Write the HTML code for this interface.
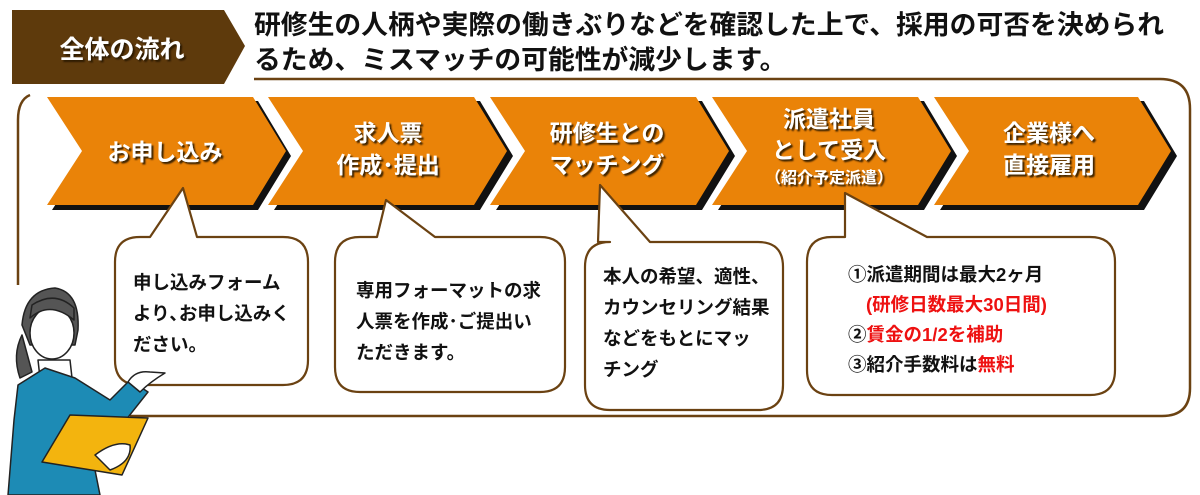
<!DOCTYPE html>
<html><head><meta charset="utf-8"><style>
html,body{margin:0;padding:0;background:#fff;width:1200px;height:495px;overflow:hidden}
svg{display:block}
.t{font-family:"Liberation Sans","Noto Sans CJK JP",sans-serif;font-weight:bold}
</style></head><body>
<svg width="1200" height="495" viewBox="0 0 1200 495">
<defs>
<filter id="sh" x="-10%" y="-10%" width="130%" height="130%"><feDropShadow dx="2" dy="2" stdDeviation="0.8" flood-color="#2a1500" flood-opacity="0.9"/></filter>
</defs>
<!-- header -->
<polygon points="12,10 224,10 245,46 224,84 12,84" fill="#5e3a0c"/>
<text x="122" y="58" class="t" font-size="25" fill="#fff" text-anchor="middle" filter="url(#sh)">全体の流れ</text>
<text x="254" y="34" class="t" font-size="26.8" fill="#111">研修生の人柄や実際の働きぶりなどを確認した上で、採用の可否を決められ</text>
<text x="254" y="69" class="t" font-size="26.8" fill="#111">るため、ミスマッチの可能性が減少します。</text>
<!-- frame -->
<path d="M254,79 L1160,79 Q1190,79 1190,109 L1190,388 Q1190,416 1162,416 L130,416" fill="none" stroke="#6b4212" stroke-width="2.5"/>
<path d="M30,95 Q18,100 18,120 L18,285" fill="none" stroke="#6b4212" stroke-width="2.5"/>
<!-- chevrons -->
<g>
<polygon points="52,101 258,101 291,156 258,210 52,210 87,156" fill="#111"/>
<polygon points="47,97 253,97 286,151 253,205 47,205 82,151" fill="#ea8308"/>
<polygon points="274,101 480,101 513,156 480,210 274,210 309,156" fill="#111"/>
<polygon points="268,97 474,97 507,151 474,205 268,205 303,151" fill="#ea8308"/>
<polygon points="496,101 702,101 735,156 702,210 496,210 531,156" fill="#111"/>
<polygon points="490,97 696,97 729,151 696,205 490,205 525,151" fill="#ea8308"/>
<polygon points="718,101 924,101 957,156 924,210 718,210 753,156" fill="#111"/>
<polygon points="712,97 918,97 951,151 918,205 712,205 747,151" fill="#ea8308"/>
<polygon points="940,101 1144,101 1177,156 1144,210 940,210 975,156" fill="#111"/>
<polygon points="934,97 1138,97 1171,151 1138,205 934,205 969,151" fill="#ea8308"/>
</g>
<g class="t" fill="#fff" text-anchor="middle" font-size="23" filter="url(#sh)">
<text x="165" y="160">お申し込み</text>
<text x="388" y="141">求人票</text>
<text x="388" y="173">作成･提出</text>
<text x="607" y="141">研修生との</text>
<text x="607" y="173">マッチング</text>
<text x="829" y="127">派遣社員</text>
<text x="829" y="158">として受入</text>
<text x="829" y="183" font-size="16">（紹介予定派遣）</text>
<text x="1049" y="141">企業様へ</text>
<text x="1049" y="173">直接雇用</text>
</g>
<!-- bubbles -->
<g fill="#fff" stroke="#6b4212" stroke-width="2.2" stroke-linejoin="round">
<path d="M140,237 L150,237 L183,188 L197,237 L283,237 Q308,237 308,262 L308,360 Q308,385 283,385 L140,385 Q115,385 115,360 L115,262 Q115,237 140,237 Z"/>
<path d="M360,237 L377,237 L386,200 L435,237 L540,237 Q565,237 565,262 L565,367 Q565,392 540,392 L360,392 Q335,392 335,367 L335,262 Q335,237 360,237 Z"/>
<path d="M610,242 L598,242 L600,185 L650,242 L758,242 Q783,242 783,267 L783,385 Q783,410 758,410 L610,410 Q585,410 585,385 L585,267 Q585,242 610,242 Z"/>
<path d="M832,237 L845,237 L845,193 L927,237 L1090,237 Q1115,237 1115,262 L1115,370 Q1115,395 1090,395 L832,395 Q807,395 807,370 L807,262 Q807,237 832,237 Z"/>
</g>
<g class="t" font-size="18.5" fill="#111">
<text x="133" y="289">申し込みフォーム</text>
<text x="133" y="320">より､お申し込みく</text>
<text x="133" y="351">ださい。</text>
<text x="356" y="297">専用フォーマットの求</text>
<text x="356" y="328">人票を作成･ご提出い</text>
<text x="356" y="359">ただきます。</text>
<text x="603" y="283">本人の希望、適性、</text>
<text x="603" y="314">カウンセリング結果</text>
<text x="603" y="345">などをもとにマッ</text>
<text x="603" y="376">チング</text>
<text x="848" y="281">①派遣期間は最大2ヶ月</text>
<text x="866" y="311" fill="#ee1111">(研修日数最大30日間)</text>
<text x="848" y="341">②<tspan fill="#ee1111">賃金の1/2を補助</tspan></text>
<text x="848" y="371">③紹介手数料は<tspan fill="#ee1111">無料</tspan></text>
</g>
<!-- woman -->
<g stroke="#222" stroke-width="1.5" stroke-linejoin="round">
<path d="M22,325 Q25,290 55,288 Q80,292 78,330 L75,345 L30,345 Z" fill="#555"/>
<path d="M22,335 Q12,355 20,378 L32,372 Z" fill="#555"/>
<ellipse cx="52" cy="333" rx="22" ry="26" fill="#fff"/>
<path d="M30,318 Q50,300 74,320 L74,308 Q55,290 32,305 Z" fill="#555"/>
<path d="M38,360 L70,360 L72,378 L40,378 Z" fill="#fff"/>
<path d="M18,385 L45,368 L75,378 L110,400 L130,380 L148,392 L118,430 L95,470 L100,495 L8,495 L14,420 Z" fill="#1d8bb5"/>
<path d="M128,382 Q135,370 150,372 L165,373 Q150,382 140,392 Z" fill="#fff"/>
<polygon points="70,415 148,418 122,475 42,462" fill="#f3b40e"/>
<path d="M95,455 Q115,440 130,445 Q132,462 110,470 Z" fill="#fff"/>
</g>
</svg>
</body></html>
